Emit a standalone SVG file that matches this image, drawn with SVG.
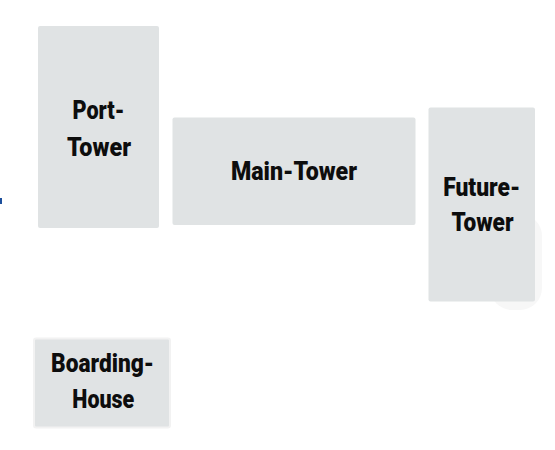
<svg xmlns="http://www.w3.org/2000/svg" width="555" height="450" viewBox="0 0 555 450">
<style>
.box{fill:#e0e3e4;}
.lbl{font-family:Roboto,"Liberation Sans",sans-serif;font-weight:900;font-size:26px;fill:#0d0d0d;text-anchor:middle;}
</style>
<rect width="555" height="450" fill="#ffffff"/>
<rect x="0" y="198" width="2" height="6" fill="#1d4f9c"/>
<rect x="490" y="214" width="52" height="96" rx="22" fill="#f7f7f7"/>
<g id="connectors"/>
<g id="port-tower">
<rect class="box" x="38" y="26" width="121" height="202" rx="2"/>
<text class="lbl" x="98.5" y="119" textLength="52" lengthAdjust="spacingAndGlyphs">Port-</text>
<text class="lbl" x="99" y="156" textLength="64" lengthAdjust="spacingAndGlyphs">Tower</text>
</g>
<g id="main-tower">
<rect class="box" x="172.5" y="117.5" width="243" height="107.5" rx="2"/>
<text class="lbl" x="294" y="180" textLength="126" lengthAdjust="spacingAndGlyphs">Main-Tower</text>
</g>
<g id="future-tower">
<rect class="box" x="428.5" y="107.5" width="106.5" height="194" rx="2"/>
<text class="lbl" x="481.7" y="195.7" textLength="77" lengthAdjust="spacingAndGlyphs">Future-</text>
<text class="lbl" x="482.5" y="231" textLength="62" lengthAdjust="spacingAndGlyphs">Tower</text>
</g>
<g id="boarding-house">
<rect class="box" x="34" y="338.5" width="136" height="89" rx="2" stroke="#f2f2f2" stroke-width="2"/>
<text class="lbl" x="102.5" y="371.5" textLength="103" lengthAdjust="spacingAndGlyphs">Boarding-</text>
<text class="lbl" x="103.3" y="408.3" textLength="62" lengthAdjust="spacingAndGlyphs">House</text>
</g>
</svg>
